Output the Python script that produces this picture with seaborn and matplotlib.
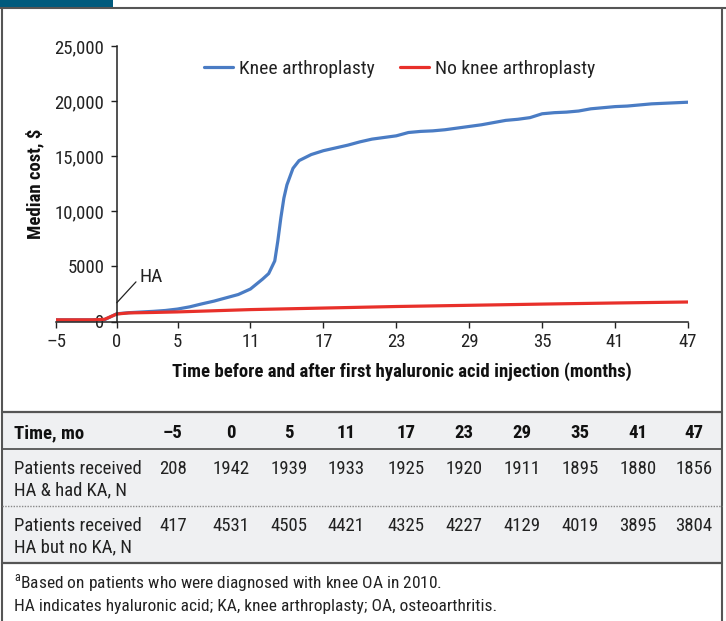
import matplotlib
matplotlib.use("Agg")
import matplotlib.pyplot as plt
from matplotlib import font_manager
from matplotlib.lines import Line2D
from matplotlib.patches import Rectangle
import seaborn as sns
import pandas as pd

# ---------------- data ----------------
ka_months = [-5, -4, -3, -2, -1, 0, 1, 2, 3, 4, 5, 6, 7, 8, 9, 10, 11, 12, 12.5,
             13, 13.25, 13.5, 13.75, 14, 14.5, 15, 16, 17, 18, 19, 20, 21, 22, 23,
             24, 25, 26, 27, 28, 29, 30, 31, 32, 33, 34, 35, 36, 37, 38, 39, 40,
             41, 42, 43, 44, 45, 46, 47]
ka_cost = [150, 150, 150, 150, 170, 700, 800, 860, 920, 1000, 1130, 1330, 1600,
           1850, 2150, 2450, 2950, 3850, 4350, 5500, 7300, 9400, 11200, 12400,
           13900, 14600, 15150, 15500, 15750, 16000, 16300, 16550, 16700, 16850,
           17150, 17250, 17300, 17400, 17550, 17700, 17850, 18050, 18250, 18350,
           18500, 18850, 18950, 19000, 19100, 19300, 19400, 19500, 19550, 19650,
           19750, 19800, 19850, 19900]
noka_months = [-5, -4, -3, -2, -1, 0, 1, 3, 5, 11, 17, 23, 29, 35, 41, 47]
noka_cost = [150, 150, 150, 150, 200, 680, 780, 820, 870, 1080, 1220, 1360,
             1470, 1580, 1680, 1770]
series_names = ["Knee arthroplasty", "No knee arthroplasty"]
series_colors = ["#4a7cc4", "#e8302a"]

xticks = [-5, 0, 5, 11, 17, 23, 29, 35, 41, 47]
yticks = [0, 5000, 10000, 15000, 20000, 25000]
ytick_labels = ["0", "5000", "10,000", "15,000", "20,000", "25,000"]

table_header = ["Time, mo", "\u20135", "0", "5", "11", "17", "23", "29", "35", "41", "47"]
row1_label = "Patients received\nHA & had KA, N"
row1_values = [208, 1942, 1939, 1933, 1925, 1920, 1911, 1895, 1880, 1856]
row2_label = "Patients received\nHA but no KA, N"
row2_values = [417, 4531, 4505, 4421, 4325, 4227, 4129, 4019, 3895, 3804]
footnote1 = "$^{\\mathrm{a}}$Based on patients who were diagnosed with knee OA in 2010."
footnote2 = "HA indicates hyaluronic acid; KA, knee arthroplasty; OA, osteoarthritis."

# ---------------- style ----------------
sns.set_theme(style="white")
names = {f.name for f in font_manager.fontManager.ttflist}
fam = "Roboto Condensed" if "Roboto Condensed" in names else "Liberation Sans"
plt.rcParams["font.family"] = [fam, "DejaVu Sans"]
plt.rcParams["mathtext.fontset"] = "custom"
plt.rcParams["mathtext.rm"] = fam

FS = 13.5
W, H = 726, 621
fig = plt.figure(figsize=(W / 100, H / 100), dpi=100)
fig.patch.set_facecolor("white")

def fx(px):
    return px / W

def fy(py):
    return 1 - py / H

ax = fig.add_axes([fx(56), fy(321.5), fx(688) - fx(56), fy(46) - fy(321.5)])

df = pd.concat([
    pd.DataFrame({"month": ka_months, "cost": ka_cost, "group": series_names[0]}),
    pd.DataFrame({"month": noka_months, "cost": noka_cost, "group": series_names[1]}),
])
sns.lineplot(data=df, x="month", y="cost", hue="group", palette=series_colors,
             hue_order=series_names, linewidth=2.3, ax=ax, legend=False)

ax.set_xlim(-5, 47)
ax.set_ylim(0, 25000)
ax.set_xticks(xticks)
ax.set_xticklabels([("\u2013" + str(-t)) if t < 0 else str(t) for t in xticks])
ax.set_yticks(yticks)
ax.set_yticklabels(ytick_labels)
for s in ["top", "right"]:
    ax.spines[s].set_visible(False)
ax.spines["left"].set_position(("data", 0))
for s in ["left", "bottom"]:
    ax.spines[s].set_color("#222222")
    ax.spines[s].set_linewidth(1.1)
ax.tick_params(axis="both", which="both", direction="out", length=4, width=1,
               color="#222222", labelsize=FS, labelcolor="#222222")
ax.tick_params(axis="y", pad=5, left=True)
ax.tick_params(axis="x", pad=4, bottom=True)
ax.set_xlabel("")
ax.set_ylabel("")
ax.set_facecolor("none")

# HA annotation
ax.annotate("HA", xy=(0, 1700), xytext=(1.85, 4000), fontsize=FS + 0.5,
            color="#222222", va="center", ha="left",
            arrowprops=dict(arrowstyle="-", color="#222222", lw=0.9,
                            shrinkA=0, shrinkB=0, relpos=(0, 0.45)))

# axis labels
fig.text(fx(402), fy(372), "Time before and after first hyaluronic acid injection (months)",
         ha="center", va="center", fontsize=FS, fontweight="bold", color="#111111")
fig.text(fx(35), fy(184), "Median cost, $", ha="center", va="center", rotation=90,
         fontsize=FS, fontweight="bold", color="#111111")

# legend
handles = [Line2D([0], [0], color=c, lw=2.3) for c in series_colors]
fig.legend(handles, series_names, loc="center left", bbox_to_anchor=(fx(204), fy(69)),
           ncol=2, frameon=False, fontsize=FS + 0.5, handlelength=1.5, handletextpad=0.3,
           columnspacing=1.3, borderpad=0, borderaxespad=0, labelcolor="#222222")

# ---------------- frame & header ----------------
border = "#555555"
fig.add_artist(Rectangle((0, fy(8)), fx(113), 1 - fy(8), transform=fig.transFigure,
                         facecolor="#005a7d", edgecolor="none"))
fig.add_artist(Line2D([0, 1], [fy(8), fy(8)], transform=fig.transFigure, color=border, lw=1.5))
fig.add_artist(Line2D([fx(2), fx(2)], [0, fy(8)], transform=fig.transFigure, color=border, lw=1.5))
fig.add_artist(Line2D([fx(722), fx(722)], [0, fy(8)], transform=fig.transFigure, color=border, lw=1.5))

# table background
fig.add_artist(Rectangle((fx(2), fy(563)), fx(722) - fx(2), fy(412) - fy(563),
                         transform=fig.transFigure, facecolor="#eff0f2", edgecolor="none",
                         zorder=0))
for yy, lw in [(412, 1.6), (449, 1.3), (563, 1.6)]:
    fig.add_artist(Line2D([fx(2), fx(722)], [fy(yy), fy(yy)], transform=fig.transFigure,
                          color=border, lw=lw))
fig.add_artist(Line2D([fx(2), fx(722)], [fy(506), fy(506)], transform=fig.transFigure,
                      color="#888888", lw=1.0, linestyle=(0, (1, 1))))

col_x = [173, 231, 289, 346, 406, 464, 522, 580, 638, 694]
fig.text(fx(14), fy(433), table_header[0], ha="left", va="center", fontsize=FS,
         fontweight="bold", color="#111111")
for cx, t in zip(col_x, table_header[1:]):
    fig.text(fx(cx), fy(433), t, ha="center", va="center", fontsize=FS,
             fontweight="bold", color="#111111")

for label, vals, y1 in [(row1_label, row1_values, 469), (row2_label, row2_values, 526)]:
    l1, l2 = label.split("\n")
    fig.text(fx(14), fy(y1), l1, ha="left", va="center", fontsize=FS, color="#222222")
    fig.text(fx(14), fy(y1 + 21), l2, ha="left", va="center", fontsize=FS, color="#222222")
    for cx, v in zip(col_x, vals):
        fig.text(fx(cx), fy(y1), str(v), ha="center", va="center", fontsize=FS,
                 color="#222222")

fig.text(fx(14), fy(583), footnote1, ha="left", va="center", fontsize=FS - 1, color="#222222")
fig.text(fx(14), fy(606), footnote2, ha="left", va="center", fontsize=FS - 1, color="#222222")

fig.savefig("out.png", dpi=100)
